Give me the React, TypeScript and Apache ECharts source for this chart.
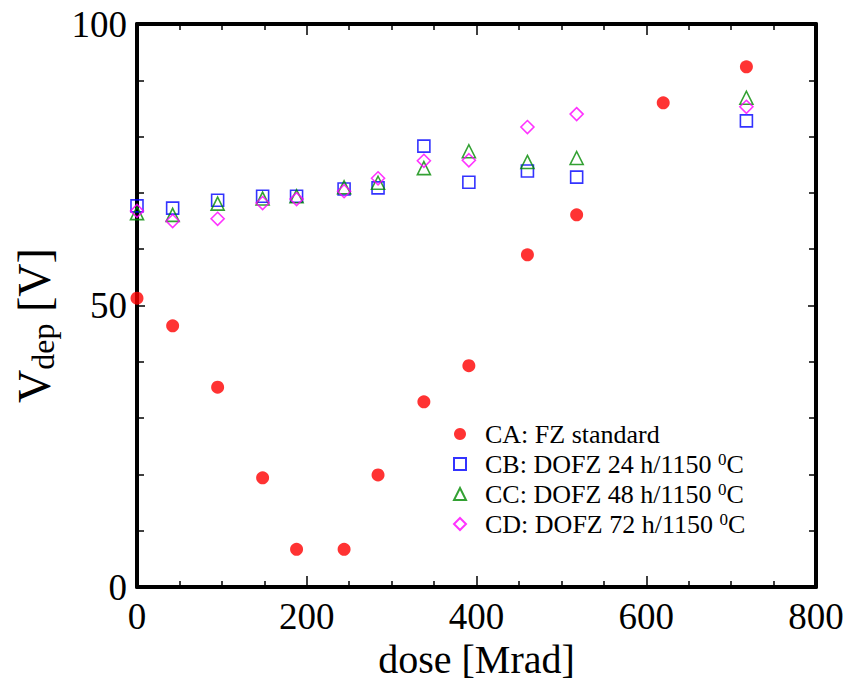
import React, { useEffect, useRef } from "react";
import * as echarts from "echarts";

const doses = [0, 42, 95, 148, 188, 244, 284, 338, 391, 460, 518, 620, 718];
const caValues = [51.3, 46.4, 35.5, 19.4, 6.7, 6.7, 19.9, 32.9, 39.3, 59.0, 66.1, 86.0, 92.4];
const cbDoses = [0, 42, 95, 148, 188, 244, 284, 338, 391, 460, 518, 718];
const cbValues = [67.7, 67.3, 68.7, 69.4, 69.4, 70.7, 70.9, 78.3, 71.9, 73.9, 72.8, 82.8];
const ccValues = [66.4, 66.1, 68.1, 69.0, 69.4, 71.0, 71.8, 74.4, 77.4, 75.5, 76.2, 86.9];
const cdValues = [66.8, 65.0, 65.4, 68.2, 68.9, 70.3, 72.6, 75.7, 75.8, 81.7, 84.0, 85.3];
const seriesNames = [
  "CA: FZ standard",
  "CB: DOFZ 24 h/1150 0C",
  "CC: DOFZ 48 h/1150 0C",
  "CD: DOFZ 72 h/1150 0C",
];
const xTicks = [0, 200, 400, 600, 800];
const yTicks = [0, 50, 100];

const FONT = "Liberation Serif";

function pairs(xs: number[], ys: number[]) {
  return xs.map((x, i) => [x, ys[i]]);
}

export default function App() {
  const ref = useRef<HTMLDivElement>(null);
  useEffect(() => {
    if (!ref.current) return;
    const chart = echarts.init(ref.current, undefined, { renderer: "svg" });
    const axisCommon = {
      axisLine: { show: true, onZero: false, lineStyle: { color: "#000", width: 4 } },
      splitLine: { show: false },
    };
    chart.setOption({
      animation: false,
      backgroundColor: "#fff",
      grid: { left: 137, right: 33, top: 24, bottom: 94, containLabel: false, outerBoundsMode: "none" },
      legend: {
        orient: "vertical",
        left: 448,
        top: 416,
        itemWidth: 12,
        itemHeight: 12,
        itemGap: 4,
        data: seriesNames,
        formatter: (name: string) => {
          const m = name.match(/^(.*) 0C$/);
          if (m) return `{t|${m[1]} }{s|0}{t|C}`;
          return `{t|${name}}`;
        },
        textStyle: {
          color: "#000",
          fontFamily: FONT,
          fontSize: 26,
          lineHeight: 26,
          padding: [0, 0, 0, 14],
          rich: {
            t: { fontFamily: FONT, fontSize: 26, lineHeight: 26, color: "#000" },
            s: { fontFamily: FONT, fontSize: 17, lineHeight: 17, color: "#000", verticalAlign: "top" },
          },
        },
      },
      xAxis: [
        {
          type: "value",
          min: 0,
          max: 800,
          interval: 200,
          position: "bottom",
          name: "dose [Mrad]",
          nameLocation: "middle",
          nameGap: 43,
          nameTextStyle: { fontFamily: FONT, fontSize: 40, lineHeight: 40, color: "#000" },
          ...axisCommon,
          axisTick: { show: true, inside: true, length: 11, lineStyle: { color: "#000", width: 1.5 } },
          minorTick: { show: true, splitNumber: 4, length: 6, lineStyle: { color: "#000", width: 1.5 } },
          axisLabel: {
            show: true,
            margin: 11,
            fontFamily: FONT,
            fontSize: 37,
            color: "#000",
            formatter: (v: number) => (xTicks.includes(v) ? String(v) : ""),
          },
        },
        {
          type: "value",
          min: 0,
          max: 800,
          interval: 200,
          position: "top",
          ...axisCommon,
          axisTick: { show: true, inside: true, length: 11, lineStyle: { color: "#000", width: 1.5 } },
          minorTick: { show: true, splitNumber: 4, length: 6, lineStyle: { color: "#000", width: 1.5 } },
          axisLabel: { show: false },
        },
      ],
      yAxis: [
        {
          type: "value",
          min: 0,
          max: 100,
          interval: 50,
          position: "left",
          name: "{v|V}{s|dep}{v| [V]}",
          nameLocation: "middle",
          nameGap: 78,
          nameRotate: 90,
          nameTextStyle: {
            fontFamily: FONT,
            fontSize: 44,
            color: "#000",
            padding: [0, 40, 0, 0],
            rich: {
              v: { fontFamily: FONT, fontSize: 46, color: "#000", lineHeight: 50 },
              s: { fontFamily: FONT, fontSize: 32, color: "#000", lineHeight: 50, verticalAlign: "bottom", padding: [15, 0, 0, 0] },
            },
          },
          ...axisCommon,
          axisTick: { show: true, inside: true, length: 8, lineStyle: { color: "#000", width: 1.5 } },
          minorTick: { show: true, splitNumber: 5, length: 7, lineStyle: { color: "#000", width: 1.5 } },
          axisLabel: {
            show: true,
            margin: 10,
            fontFamily: FONT,
            fontSize: 37,
            color: "#000",
            formatter: (v: number) => (yTicks.includes(v) ? String(v) : ""),
          },
        },
        {
          type: "value",
          min: 0,
          max: 100,
          interval: 50,
          position: "right",
          ...axisCommon,
          axisTick: { show: true, inside: true, length: 8, lineStyle: { color: "#000", width: 1.5 } },
          minorTick: { show: true, splitNumber: 5, length: 7, lineStyle: { color: "#000", width: 1.5 } },
          axisLabel: { show: false },
        },
      ],
      series: [
        {
          name: seriesNames[1],
          type: "scatter",
          symbol: "rect",
          symbolSize: 12,
          z: 2,
          itemStyle: { color: "rgba(255,255,255,0)", borderColor: "#0000ff", borderWidth: 1.6 },
          data: pairs(cbDoses, cbValues),
        },
        {
          name: seriesNames[2],
          type: "scatter",
          symbol: "triangle",
          symbolSize: 13,
          z: 3,
          itemStyle: { color: "rgba(255,255,255,0)", borderColor: "#008a00", borderWidth: 1.6 },
          data: pairs(cbDoses, ccValues),
        },
        {
          name: seriesNames[3],
          type: "scatter",
          symbol: "diamond",
          symbolSize: 13,
          z: 4,
          itemStyle: { color: "rgba(255,255,255,0)", borderColor: "#ff00ff", borderWidth: 1.6 },
          data: pairs(cbDoses, cdValues),
        },
        {
          name: seriesNames[0],
          type: "scatter",
          symbol: "circle",
          symbolSize: 13,
          z: 5,
          itemStyle: { color: "#ff0000" },
          data: pairs(doses, caValues),
        },
      ],
    });
    return () => chart.dispose();
  }, []);
  return (
    <div
      ref={ref}
      style={{ position: "fixed", left: 0, top: 0, width: 849, height: 681 }}
    />
  );
}
